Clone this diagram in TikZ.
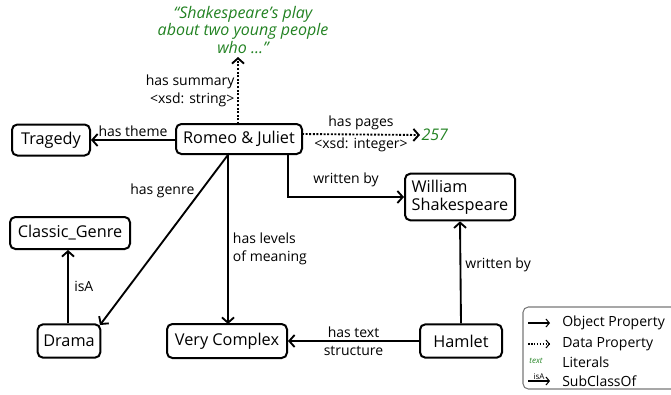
\documentclass[tikz,border=0pt]{standalone}
\usepackage{fontspec}
\setmainfont{Open Sans}
\usetikzlibrary{arrows.meta,calc}
\definecolor{litgreen}{RGB}{34,130,34}
\definecolor{legendgray}{RGB}{120,120,120}
\tikzset{
  px/.style={x=0.75pt,y=-0.75pt},
  cbox/.style={draw,line width=1.5pt,rounded corners=4pt,inner sep=2pt,font=\fontsize{12.2}{13.8}\selectfont},
  objp/.style={line width=1.4pt,-{Straight Barb[length=4pt,width=9pt,line width=1.4pt]}},
  datap/.style={objp,dash pattern=on 1.5pt off 1.2pt},
  elab/.style={font=\fontsize{10.5}{13.5}\selectfont,inner sep=1pt},
  lit/.style={text=litgreen,font=\fontsize{12}{13}\selectfont\itshape,inner sep=1pt},
  leg/.style={font=\fontsize{10.5}{12}\selectfont,anchor=west,inner sep=0pt},
}
\begin{document}
\begin{tikzpicture}[px]
\useasboundingbox (0,0) rectangle (671,394);
\clip (0,0) rectangle (671,394);
% nodes
\node[cbox,minimum width=58.5pt,minimum height=23.25pt] (tragedy) at (51,140) {Tragedy};
\node[cbox,minimum width=94.5pt,minimum height=22.5pt] (romeo) at (239,139) {Romeo \& Juliet};
\node[cbox,minimum width=82.5pt,minimum height=35pt,align=left] (william) at (460,197) {William\\Shakespeare};
\node[cbox,minimum width=90pt,minimum height=24pt] (classic) at (70,233) {Classic\_Genre};
\node[cbox,minimum width=47pt,minimum height=25pt] (drama) at (69,341) {Drama};
\node[cbox,minimum width=90pt,minimum height=25.5pt] (complex) at (227,341) {Very Complex};
\node[cbox,minimum width=61.5pt,minimum height=25pt] (hamlet) at (461,341) {Hamlet};
% literals
\node[lit,align=center] (summary) at (243,30) {“Shakespeare’s play\\about two young people\\who ...”};
\node[lit,anchor=west] (pages) at (420,135) {257};
% helper coordinates
\coordinate (sumtip) at (238,57);
\coordinate (romtop) at (238,124);
\coordinate (pagefrom) at (302,134);
\coordinate (wbstart) at (288,153.5);
\coordinate (wbcorner) at (288,197);
\coordinate (genstart) at (229,153.5);
\coordinate (dramacorner) at (100,325);
\coordinate (lvlstart) at (228,153.5);
\coordinate (lvlend) at (228,324);
% edges
\draw[objp] (romeo.west |- tragedy) -- (tragedy.east) node[elab,midway,above=1pt] {has theme};
\draw[datap] (romtop) -- (sumtip) node[elab,pos=0.5,left=1pt,align=right] {has summary\\<xsd: string>};
\draw[datap] (pagefrom) -- (pages.west) node[elab,midway,above=1.5pt] {has pages} node[elab,midway,below=0.5pt] {<xsd: integer>};
\draw[objp] (wbstart) -- (wbcorner) -- (william.west |- wbcorner) node[elab,midway,above=6pt] {written by};
\draw[objp] (genstart) -- (dramacorner) node[elab,pos=0.22,left=3pt] {has genre};
\draw[objp] (lvlstart) -- (lvlend) node[elab,pos=0.56,right=2pt,align=left] {has levels\\of meaning};
\draw[objp] (drama.north -| 68,0) -- (classic.south -| 68,0) node[elab,midway,right=3pt] {isA};
\draw[objp] (hamlet.west) -- (complex.east) node[elab,midway,align=center] (hts) {has text\\structure};
\draw[objp] (hamlet.north) -- (william.south) node[elab,pos=0.57,right=2pt] {written by};
% legend
\draw[legendgray,line width=0.8pt,rounded corners=4pt] (523,307) rectangle (690,389);
\coordinate (l1a) at (528,323); \coordinate (l1b) at (550,323);
\coordinate (l2a) at (528,344); \coordinate (l2b) at (550,344);
\coordinate (l4a) at (528,381); \coordinate (l4b) at (550,381);
\draw[line width=0.8pt,-{Straight Barb[length=2.5pt,width=6pt,line width=0.8pt]}] (l1a) -- (l1b);
\draw[line width=0.8pt,dash pattern=on 1.2pt off 1pt,-{Straight Barb[length=2.5pt,width=6pt,line width=0.8pt]}] (l2a) -- (l2b);
\node[text=litgreen,font=\fontsize{6}{7}\selectfont\itshape,inner sep=0pt] (ltext) at (536,361) {text};
\draw[line width=0.8pt,-{Straight Barb[length=2.5pt,width=6pt,line width=0.8pt]}] (l4a) -- (l4b) node[midway,above=0pt,font=\fontsize{6}{7}\selectfont,inner sep=1pt] {isA};
\node[leg] (lo) at (562,323) {Object Property};
\node[leg] (ld) at (562,344) {Data Property};
\node[leg] (ll) at (562,362) {Literals};
\node[leg] (ls) at (562,381) {SubClassOf};
\end{tikzpicture}
\end{document}
